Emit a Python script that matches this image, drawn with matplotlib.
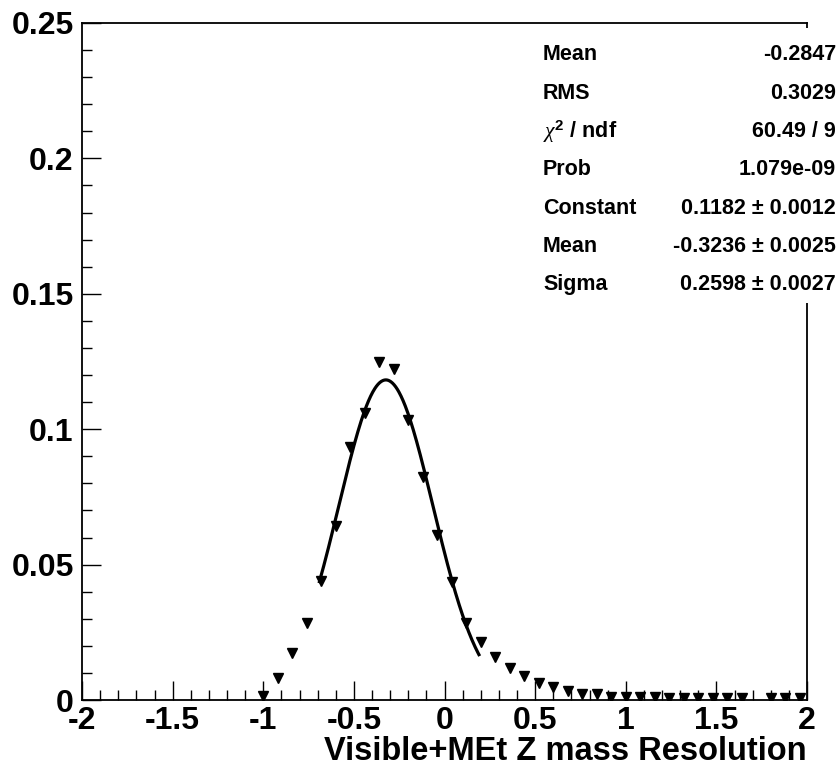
import numpy as np
import matplotlib
matplotlib.use("Agg")
from matplotlib import pyplot as plt
from matplotlib.patches import Rectangle
from matplotlib.ticker import MultipleLocator

plt.rcParams["font.family"] = ["Liberation Sans", "DejaVu Sans"]
plt.rcParams["mathtext.fontset"] = "custom"
plt.rcParams["mathtext.it"] = "Liberation Serif:italic"
plt.rcParams["mathtext.rm"] = "Liberation Sans:bold"

# Histogram bin centres and contents (empty bins are not drawn)
bin_x = [-1.00, -0.92, -0.84, -0.76, -0.68, -0.60, -0.52, -0.44, -0.36, -0.28,
         -0.20, -0.12, -0.04, 0.04, 0.12, 0.20, 0.28, 0.36, 0.44, 0.52,
         0.60, 0.68, 0.76, 0.84, 0.92, 1.00, 1.08, 1.16, 1.24, 1.32,
         1.40, 1.48, 1.56, 1.64, 1.80, 1.88, 1.96]
bin_y = [0.0016, 0.0082, 0.0175, 0.0285, 0.0440, 0.0643, 0.0933, 0.1060, 0.1247, 0.1221,
         0.1033, 0.0824, 0.0611, 0.0437, 0.0285, 0.0213, 0.0160, 0.0119, 0.0090, 0.0062,
         0.0047, 0.0034, 0.0024, 0.0021, 0.0012, 0.0012, 0.0010, 0.0010, 0.0009, 0.0009,
         0.0008, 0.0008, 0.0007, 0.0007, 0.0006, 0.0006, 0.0006]

# Gaussian fit result and its range
fit_const = 0.1182
fit_mean = -0.3236
fit_sigma = 0.2598
fit_range = (-0.69, 0.19)

# Stats box
stat_names = ["Mean", "RMS", r"$\chi^{2}$ / ndf", "Prob", "Constant", "Mean", "Sigma"]
stat_values = ["-0.2847", "0.3029", "60.49 / 9", "1.079e-09",
               "0.1182 \u00b1 0.0012", "-0.3236 \u00b1 0.0025", "0.2598 \u00b1 0.0027"]

fig = plt.figure(figsize=(8.38, 7.71), dpi=100)
ax = fig.add_axes([82 / 838, 1 - 700 / 771, (807 - 82) / 838, (700 - 23) / 771])

ax.plot(bin_x, bin_y, linestyle="none", marker="v", markersize=7.5,
        color="black", zorder=3)

xf = np.linspace(fit_range[0], fit_range[1], 300)
yf = fit_const * np.exp(-0.5 * ((xf - fit_mean) / fit_sigma) ** 2)
ax.plot(xf, yf, color="black", linewidth=2.3, zorder=3)

ax.set_xlim(-2, 2)
ax.set_ylim(0, 0.25)
ax.xaxis.set_major_locator(MultipleLocator(0.5))
ax.xaxis.set_minor_locator(MultipleLocator(0.1))
ax.yaxis.set_major_locator(MultipleLocator(0.05))
ax.yaxis.set_minor_locator(MultipleLocator(0.01))
ax.set_xticks([-2, -1.5, -1, -0.5, 0, 0.5, 1, 1.5, 2])
ax.set_xticklabels(["-2", "-1.5", "-1", "-0.5", "0", "0.5", "1", "1.5", "2"])
ax.set_yticks([0, 0.05, 0.1, 0.15, 0.2, 0.25])
ax.set_yticklabels(["0", "0.05", "0.1", "0.15", "0.2", "0.25"])

ax.tick_params(which="both", direction="in", top=False, right=False, width=1.0)
ax.tick_params(which="major", length=14)
ax.tick_params(which="minor", length=7.5)
ax.tick_params(axis="x", which="major", labelsize=23, pad=4)
ax.tick_params(axis="y", which="major", labelsize=23, pad=6)
for lab in ax.get_xticklabels() + ax.get_yticklabels():
    lab.set_fontweight("bold")
for sp in ax.spines.values():
    sp.set_linewidth(1.3)

ax.set_xlabel("Visible+MEt Z mass Resolution", fontsize=23.5, fontweight="bold",
              ha="right", va="center")
ax.xaxis.set_label_coords(1.0, -(751 - 700) / 677)

# white stats box covering the upper right of the frame
box = Rectangle((530 / 838, 1 - 303 / 771), (838 - 530) / 838, (303 - 28) / 771,
                transform=fig.transFigure, facecolor="white", edgecolor="none",
                clip_on=False, zorder=5)
ax.add_patch(box)

row_y0 = 55
row_step = 38.3
for i, (name, val) in enumerate(zip(stat_names, stat_values)):
    yy = 1 - (row_y0 + i * row_step) / 771
    fig.text(543 / 838, yy, name, fontsize=15.5, fontweight="bold",
             ha="left", va="center", zorder=6)
    fig.text(836 / 838, yy, val, fontsize=15.5, fontweight="bold",
             ha="right", va="center", zorder=6)

fig.savefig("out.png", dpi=100)
